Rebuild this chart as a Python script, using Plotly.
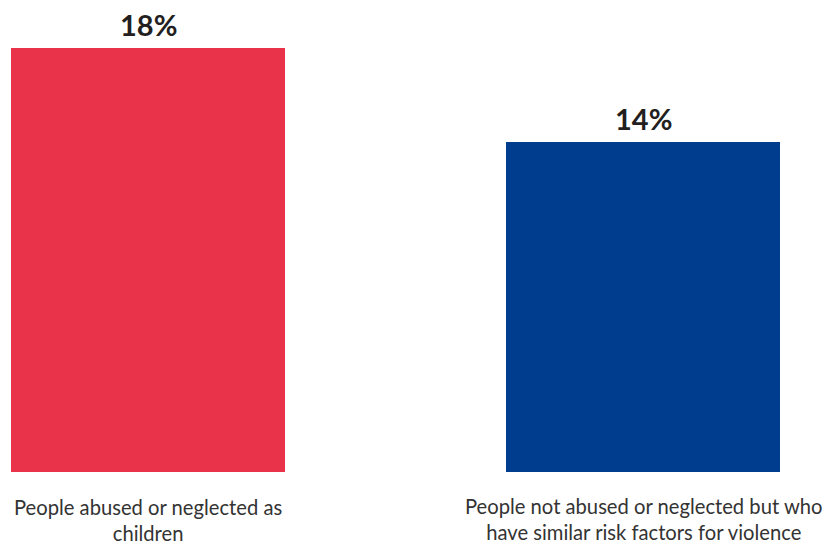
import plotly.graph_objects as go

categories = ["People abused or neglected as<br>children",
              "People not abused or neglected but who<br>have similar risk factors for violence"]
values = [18, 14]
value_labels = ["18%", "14%"]
colors = ["#E8334A", "#003D8F"]

xpos = [0, 1]

fig = go.Figure()
fig.add_trace(go.Bar(
    x=xpos, y=values, width=0.5535,
    marker=dict(color=colors, line=dict(width=0)),
    cliponaxis=False, hoverinfo="skip",
))

for x, v, t in zip(xpos, values, value_labels):
    fig.add_annotation(x=x, y=v, xref="x", yref="y", text="<b>" + t + "</b>",
                       showarrow=False, yanchor="bottom", yshift=4,
                       font=dict(family="Lato", size=29, color="#231F20"))

label_shift = [-22, -21]
for x, lab, s in zip(xpos, categories, label_shift):
    fig.add_annotation(x=x, y=0, xref="x", yref="y", text=lab, showarrow=False,
                       yanchor="top", yshift=s, align="center", borderpad=0,
                       font=dict(family="Lato", size=20.2, color="#333333"))

fig.update_layout(
    width=827, height=548,
    margin=dict(l=0, r=0, t=0, b=76),
    paper_bgcolor="white", plot_bgcolor="white",
    showlegend=False,
    xaxis=dict(range=[-0.299, 1.3717], showticklabels=False, showgrid=False,
               zeroline=False, showline=False, ticks=""),
    yaxis=dict(range=[0, 20.04], visible=False),
    bargap=0,
)
fig.write_html("out.html", config={"displayModeBar": False},
               post_script="document.body.style.margin='0';")
